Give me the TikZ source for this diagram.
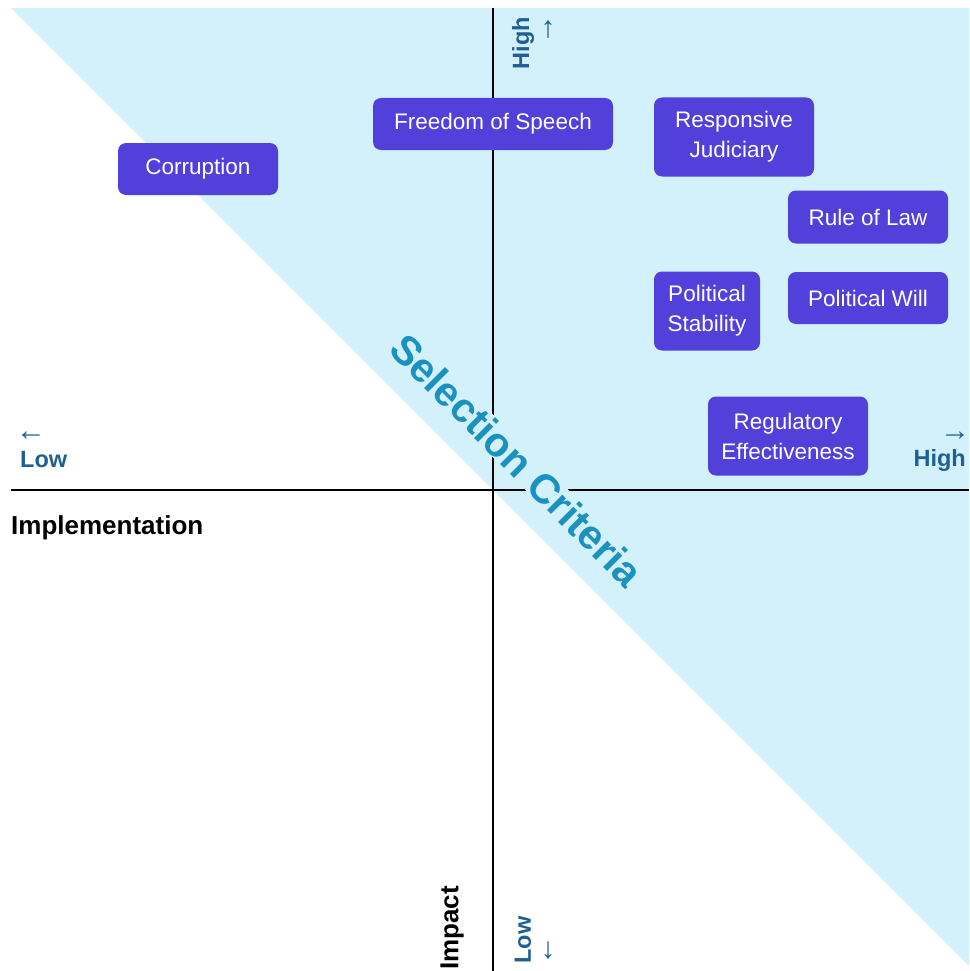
\documentclass[tikz,border=0pt]{standalone}
\usepackage{fontspec}
\setmainfont{Liberation Sans}
\definecolor{zone}{HTML}{D2F1FA}
\definecolor{factorfill}{HTML}{5240DA}
\definecolor{axisblue}{HTML}{1F5F91}
\definecolor{criteria}{HTML}{1A91BE}
\tikzset{
  factor/.style={fill=factorfill, rounded corners=8pt, text=white, align=center,
    font=\fontsize{22.5}{30}\selectfont, inner sep=0pt},
  axislabel/.style={text=axisblue, font=\fontsize{23.5}{26}\selectfont\bfseries, inner sep=0pt},
  axisarrow/.style={text=axisblue, font=\fontsize{30}{30}\selectfont, inner sep=0pt},
  axisname/.style={font=\fontsize{26}{28}\selectfont\bfseries, inner sep=0pt}
}
\begin{document}
\begin{tikzpicture}[x=1pt,y=-1pt]
\useasboundingbox (0,0) rectangle (969,971);
% selection zone
\fill[zone] (11,8) -- (969,8) -- (969,966) -- cycle;
% axes
\coordinate (top) at (493,8);
\coordinate (bottom) at (493,971);
\coordinate (left) at (11,490);
\coordinate (right) at (969,490);
\draw[line width=1.5pt] (top) -- (bottom);
\draw[line width=1.5pt] (left) -- (right);
\node[rotate=-45, text=criteria, fill=zone, inner sep=0pt,
  font=\fontsize{41}{44}\selectfont\bfseries] (crit) at (517,460) {Selection Criteria};
% factors
\node[factor, minimum width=240pt, minimum height=52pt] (speech) at (493,124) {Freedom of Speech};
\node[factor, minimum width=160pt, minimum height=52pt] (corrupt) at (198,169) {Corruption};
\node[factor, minimum width=160pt, minimum height=79pt] (judic) at (734,137) {Responsive\\Judiciary};
\node[factor, minimum width=160pt, minimum height=53pt] (law) at (868,217) {Rule of Law};
\node[factor, minimum width=106pt, minimum height=79pt] (stab) at (707,311) {Political\\Stability};
\node[factor, minimum width=160pt, minimum height=52pt] (will) at (868,298) {Political Will};
\node[factor, minimum width=160pt, minimum height=79pt] (regul) at (788,436) {Regulatory\\Effectiveness};
% axis labels
\node[axislabel, rotate=90] (ihigh) at (523,43) {High};
\node[axisarrow] (iup) at (548,30) {↑};
\node[axislabel, rotate=90] (ilow) at (523,940) {Low};
\node[axisarrow] (idown) at (548,951) {↓};
\node[axisname, rotate=90] (impact) at (452,928) {Impact};
\node[axisarrow] (lleft) at (31,436) {←};
\node[axislabel, anchor=west] (llow) at (20,460) {Low};
\node[axisarrow] (lright) at (955,436) {→};
\node[axislabel, anchor=east] (lhigh) at (966,460) {High};
\node[axisname, anchor=west] (impl) at (11,528) {Implementation};
\end{tikzpicture}
\end{document}
